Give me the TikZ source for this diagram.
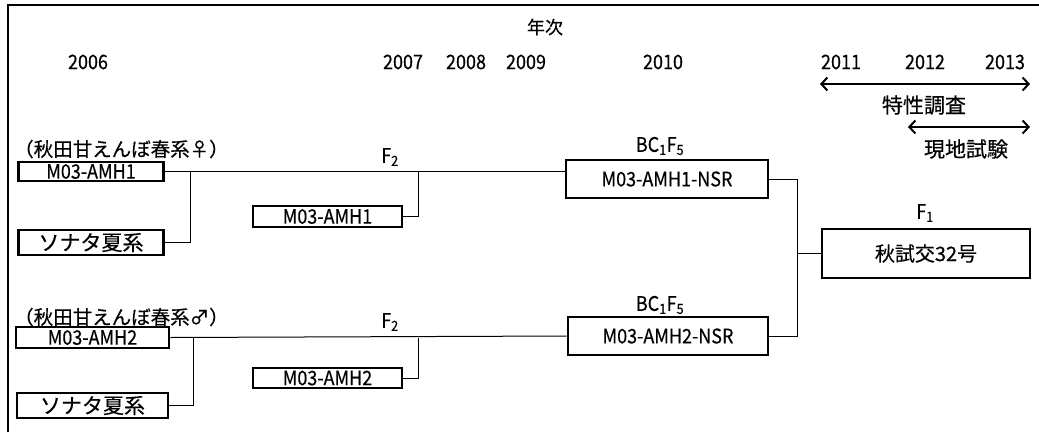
\documentclass[tikz,border=0pt]{standalone}
\usepackage{fontspec}
\setmainfont[FakeBold=0.4]{Noto Sans CJK JP}
\newfontfamily\narfont[FakeStretch=0.9,FakeBold=0.4]{Noto Sans CJK JP}
\usetikzlibrary{arrows.meta}
\begin{document}
\begin{tikzpicture}[x=1pt,y=-1pt,
  every node/.style={font=\fontsize{20}{22}\selectfont, inner sep=0pt},
  lat/.style={font=\fontsize{20}{22}\narfont},
  jpbig/.style={font=\fontsize{21}{23}\selectfont},
  box/.style={draw, line width=2.6pt},
  conn/.style={line width=1pt},
  span/.style={line width=2pt, {Straight Barb[length=6pt,width=13pt]}-{Straight Barb[length=6pt,width=13pt]}}]
\useasboundingbox (0,0) rectangle (1039,432);
\draw[line width=1.5pt] (8,432) -- (8,5) -- (1039,5);
% header
\node[font=\fontsize{18}{20}\selectfont] (nenji) at (545,27) {年次};
\node[lat] (y06) at (88,62) {2006};
\node[lat] (y07) at (403,62) {2007};
\node[lat] (y08) at (466,62) {2008};
\node[lat] (y09) at (526,62) {2009};
\node[lat] (y10) at (663,62) {2010};
\node[lat] (y11) at (841,62) {2011};
\node[lat] (y12) at (925,62) {2012};
\node[lat] (y13) at (1005,62) {2013};
\coordinate (t1a) at (820,84);
\coordinate (t1b) at (1030,84);
\draw[span] (t1a) -- (t1b);
\node[jpbig] (tok) at (924,105) {特性調査};
\coordinate (t2a) at (908,127);
\coordinate (t2b) at (1030,127);
\draw[span] (t2a) -- (t2b);
\node[jpbig] (gen) at (966,149) {現地試験};
% upper branch
\node[anchor=west, font=\fontsize{19.5}{21}\selectfont] (lab1) at (14,149) {（秋田甘えんぼ春系♀）};
\node[box, lat, minimum width=145pt, minimum height=19pt] (a1) at (91,171.5) {M03-AMH1};
\node[box, jpbig, minimum width=145pt, minimum height=25pt] (s1) at (91,242.5) {ソナタ夏系};
\node[box, lat, minimum width=149pt, minimum height=21pt] (b1) at (327.5,216.5) {M03-AMH1};
\node[lat] (f2a) at (390,157) {F\textsubscript{2}};
\node[box, lat, minimum width=202pt, minimum height=38pt] (n1) at (667,179) {M03-AMH1-NSR};
\node[lat] (bc1) at (660,146) {BC\textsubscript{1}F\textsubscript{5}};
% lower branch
\node[anchor=west, font=\fontsize{19.5}{21}\selectfont] (lab2) at (14,317) {（秋田甘えんぼ春系♂）};
\node[box, lat, minimum width=153pt, minimum height=21pt] (a2) at (92.5,337.5) {M03-AMH2};
\node[box, jpbig, minimum width=151pt, minimum height=25pt] (s2) at (92.5,405.5) {ソナタ夏系};
\node[box, lat, minimum width=149pt, minimum height=20pt] (b2) at (327.5,378) {M03-AMH2};
\node[lat] (f2b) at (390,322) {F\textsubscript{2}};
\node[box, lat, minimum width=200pt, minimum height=38pt] (n2) at (668,336) {M03-AMH2-NSR};
\node[lat] (bc2) at (660,305) {BC\textsubscript{1}F\textsubscript{5}};
% F1
\node[box, minimum width=208pt, minimum height=49pt] (f) at (926,253.5) {秋試交32号};
\node[lat] (f1) at (925,213) {F\textsubscript{1}};
% connectors upper
\draw[conn] (a1.east) -- (a1.east -| n1.west);
\draw[conn] (s1.east) -| (190,0 |- a1.east);
\draw[conn] (b1.east) -| (418,0 |- a1.east);
% connectors lower
\draw[conn] (a2.east) -- (n2.west);
\draw[conn] (s2.east) -| (193,0 |- a2.east);
\draw[conn] (b2.east) -| (418,0 |- a2.east);
% to F1
\coordinate (j) at (797,253.5);
\draw[conn] (n1.east) -| (j);
\draw[conn] (n2.east) -| (j);
\draw[conn] (j) -- (f.west);
\end{tikzpicture}
\end{document}
